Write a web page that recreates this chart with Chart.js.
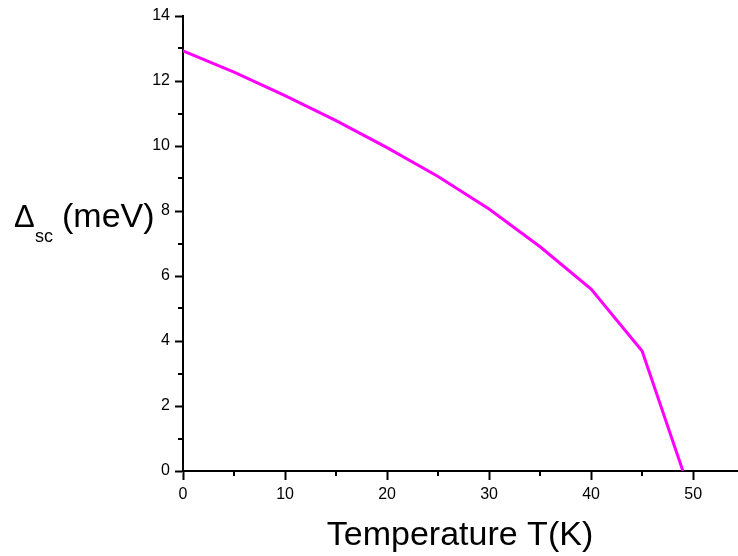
<!DOCTYPE html>
<html>
<head>
<meta charset="utf-8">
<script src="https://cdn.jsdelivr.net/npm/chart.js@4"></script>
<style>
  html, body { margin: 0; padding: 0; background: #fff; }
  #gap { display: block; }
</style>
</head>
<body>
<canvas id="gap" width="738" height="556"></canvas>
<script>
// temperature (K) and superconducting gap (meV)
const temps = [0, 5, 10, 15, 20, 25, 30, 35, 40, 45, 49];
const gaps = [12.93, 12.27, 11.55, 10.78, 9.95, 9.06, 8.06, 6.9, 5.6, 3.69, 0];

const xMinor = [5, 15, 25, 35, 45];
const yMinor = [1, 3, 5, 7, 9, 11, 13];

const font = "'Liberation Sans', Arial, sans-serif";

// minor ticks + the y title with subscript
const extras = {
    id: 'extras',
    afterDraw(chart) {
        const ctx = chart.ctx;
        const xs = chart.scales.x;
        const ys = chart.scales.y;
        const area = chart.chartArea;
        ctx.save();
        ctx.strokeStyle = '#000';
        ctx.lineWidth = 2;
        xMinor.forEach(v => {
            const px = Math.round(xs.getPixelForValue(v));
            ctx.beginPath();
            ctx.moveTo(px, area.bottom);
            ctx.lineTo(px, area.bottom + 5);
            ctx.stroke();
        });
        yMinor.forEach(v => {
            const py = Math.round(ys.getPixelForValue(v));
            ctx.beginPath();
            ctx.moveTo(area.left, py);
            ctx.lineTo(area.left - 5, py);
            ctx.stroke();
        });

        ctx.fillStyle = '#000';
        ctx.textBaseline = 'alphabetic';
        ctx.textAlign = 'left';
        ctx.font = '31px ' + font;
        ctx.fillText('\u0394', 14, 227);
        ctx.font = '18px ' + font;
        ctx.fillText('sc', 35, 242);
        ctx.font = '34px ' + font;
        ctx.fillText('(meV)', 62, 227);
        ctx.restore();
    }
};

const ctx = document.getElementById('gap');
const chart = new Chart(ctx, {
    type: 'line',
    data: {
        labels: temps,
        datasets: [{
            data: temps.map((t, i) => ({ x: t, y: gaps[i] })),
            borderColor: '#ff00ff',
            borderWidth: 3,
            pointRadius: 0,
            fill: false,
            tension: 0
        }]
    },
    options: {
        responsive: false,
        animation: false,
        layout: { padding: { top: 16, right: 1, left: 0, bottom: 0 } },
        plugins: {
            legend: { display: false },
            tooltip: { enabled: false }
        },
        scales: {
            x: {
                type: 'linear',
                min: 0,
                max: 54.3,
                border: { display: true, color: '#000', width: 2 },
                grid: {
                    drawOnChartArea: false,
                    drawTicks: true,
                    tickLength: 9,
                    tickColor: '#000',
                    tickWidth: 2
                },
                ticks: {
                    stepSize: 10,
                    includeBounds: false,
                    color: '#000',
                    padding: 5,
                    maxRotation: 0,
                    font: { family: font, size: 16 }
                },
                title: {
                    display: true,
                    text: 'Temperature T(K)',
                    color: '#000',
                    font: { family: font, size: 34 },
                    padding: { top: 2, bottom: 0 }
                },
                afterFit(scale) { scale.height = 85; }
            },
            y: {
                min: 0,
                max: 14,
                border: { display: true, color: '#000', width: 2 },
                grid: {
                    drawOnChartArea: false,
                    drawTicks: true,
                    tickLength: 8,
                    tickColor: '#000',
                    tickWidth: 2
                },
                ticks: {
                    stepSize: 2,
                    color: '#000',
                    padding: 5,
                    font: { family: font, size: 16 }
                },
                afterFit(scale) { scale.width = 183; }
            }
        }
    },
    plugins: [extras]
});
</script>
</body>
</html>
